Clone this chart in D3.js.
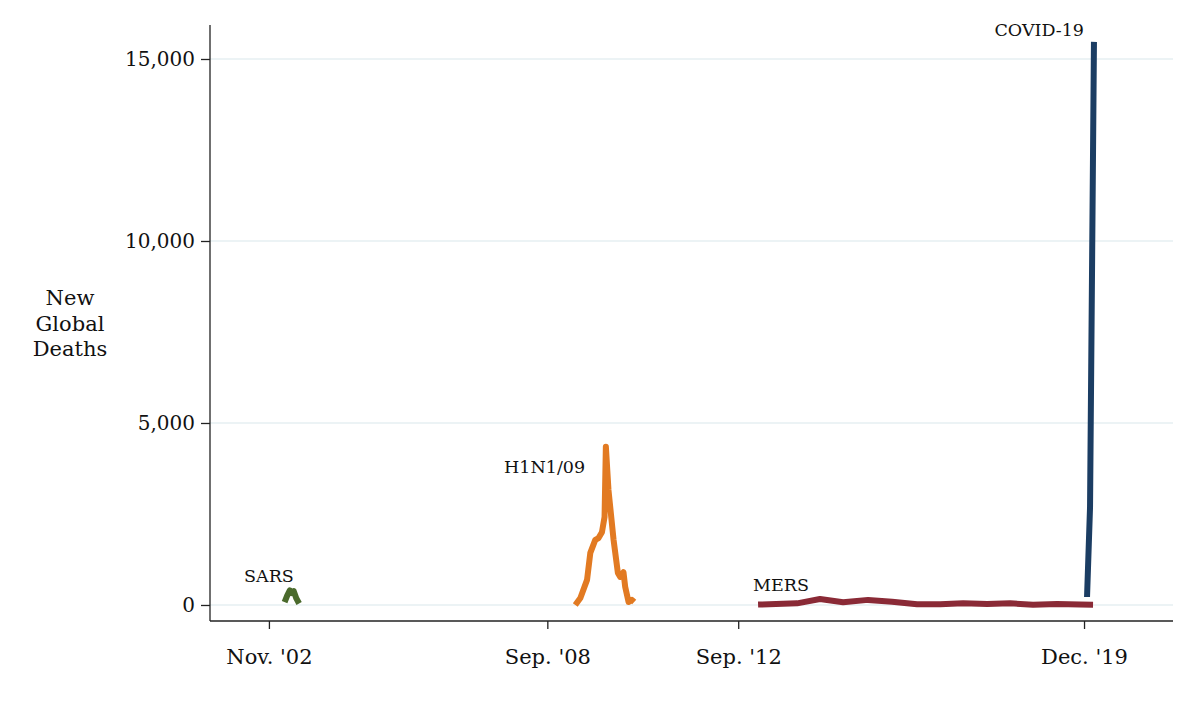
<!DOCTYPE html>
<html lang="en">
  <head>
    <meta charset="UTF-8" />
    <title>New Global Deaths by Epidemic</title>
    <script src="https://d3js.org/d3.v7.min.js"></script>
    <style>
      body {
        margin: 0;
        padding: 0;
        background-color: #fff;
      }
      svg text {
        font-family: "DejaVu Serif", "Liberation Serif", serif;
        fill: #111;
      }
      .axis path,
      .axis line {
        stroke: #222;
        stroke-width: 1.3px;
      }
      .grid line {
        stroke: #e6eff2;
        stroke-width: 1.5px;
      }
      .series {
        fill: none;
        stroke-width: 6px;
        stroke-linejoin: round;
      }
    </style>
  </head>
  <body>
    <div id="chart"></div>

    <script>
      const width = 1200;
      const height = 720;

      // Series (date, new deaths)
      const sarsDates = ["2003-03-01", "2003-03-20", "2003-04-10", "2003-04-25", "2003-05-10", "2003-05-30", "2003-06-20"];
      const sarsDeaths = [80, 250, 400, 330, 380, 180, 40];

      const h1n1Dates = [
        "2009-04-03", "2009-05-12", "2009-07-02", "2009-07-27", "2009-09-03", "2009-09-28", "2009-10-24",
        "2009-11-13", "2009-11-23", "2009-12-13", "2010-01-21", "2010-02-23", "2010-03-13", "2010-04-07",
        "2010-04-20", "2010-05-16", "2010-06-10", "2010-06-28",
      ];
      const h1n1Deaths = [0, 190, 690, 1430, 1790, 1840, 2000, 2420, 4350, 3160, 1790, 880, 770, 900, 500, 80, 140, 80];

      const mersDates = [
        "2013-01-31", "2013-11-26", "2014-05-20", "2014-11-13", "2015-05-23", "2015-11-23", "2016-06-01",
        "2016-11-25", "2017-05-20", "2017-11-20", "2018-05-14", "2018-11-06", "2019-05-08", "2019-10-31",
        "2020-02-08",
      ];
      const mersDeaths = [10, 45, 165, 75, 140, 90, 20, 20, 45, 30, 45, 5, 30, 10, 5];

      const covidDates = ["2019-12-24", "2020-01-16", "2020-02-15"];
      const covidDeaths = [220, 2690, 15470];

      const yTicks = [0, 5000, 10000, 15000];
      const xTickDates = ["2002-11-01", "2008-09-01", "2012-09-01", "2019-12-01"];
      const xTickLabels = ["Nov. '02", "Sep. '08", "Sep. '12", "Dec. '19"];

      const parse = d3.utcParse("%Y-%m-%d");
      const toPoints = (dates, values) => dates.map((d, i) => ({ date: parse(d), value: values[i] }));

      const series = [
        { name: "SARS", color: "#4a6a2c", points: toPoints(sarsDates, sarsDeaths) },
        { name: "H1N1/09", color: "#e27a22", points: toPoints(h1n1Dates, h1n1Deaths) },
        { name: "MERS", color: "#8a2a36", points: toPoints(mersDates, mersDeaths) },
        { name: "COVID-19", color: "#1b3d63", points: toPoints(covidDates, covidDeaths) },
      ];

      const margin = { left: 210, right: 27, top: 25, bottom: 99 };

      const svg = d3.select("#chart").append("svg").attr("width", width).attr("height", height).attr("viewBox", [0, 0, width, height]);

      const x = d3
        .scaleUtc()
        .domain([parse("2001-08-07"), parse("2021-10-12")])
        .range([margin.left, width - margin.right]);

      const y = d3
        .scaleLinear()
        .domain([-440, 15934])
        .range([height - margin.bottom, margin.top]);

      // gridlines
      svg
        .append("g")
        .attr("class", "grid")
        .selectAll("line")
        .data(yTicks)
        .enter()
        .append("line")
        .attr("x1", margin.left)
        .attr("x2", width - margin.right)
        .attr("y1", (d) => y(d))
        .attr("y2", (d) => y(d));

      // series lines
      const line = d3
        .line()
        .x((d) => x(d.date))
        .y((d) => y(d.value));

      svg
        .selectAll(".series")
        .data(series)
        .enter()
        .append("path")
        .attr("class", "series")
        .attr("stroke", (d) => d.color)
        .attr("d", (d) => line(d.points));

      // axes
      const yAxis = d3
        .axisLeft(y)
        .tickValues(yTicks)
        .tickSize(9)
        .tickPadding(6)
        .tickFormat(d3.format(","));

      svg
        .append("g")
        .attr("class", "axis")
        .attr("transform", `translate(${margin.left},0)`)
        .call(yAxis)
        .call((g) => g.select(".domain").attr("d", `M0,${margin.top}V${height - margin.bottom}`))
        .selectAll("text")
        .style("font-size", "20px");

      const xAxis = d3
        .axisBottom(x)
        .tickValues(xTickDates.map(parse))
        .tickSize(8)
        .tickPadding(20)
        .tickFormat((d, i) => xTickLabels[i]);

      svg
        .append("g")
        .attr("class", "axis")
        .attr("transform", `translate(0,${height - margin.bottom})`)
        .call(xAxis)
        .call((g) => g.select(".domain").attr("d", `M${margin.left},0H${width - margin.right}`))
        .selectAll("text")
        .style("font-size", "21px");

      // y axis title
      const yTitle = svg.append("text").attr("text-anchor", "middle").style("font-size", "21px");
      ["New", "Global", "Deaths"].forEach((t, i) => {
        yTitle.append("tspan").attr("x", 70).attr("y", 305 + i * 25.5).text(t);
      });

      // series labels
      const labels = [
        { text: "SARS", date: "2002-11-01", value: 640, anchor: "middle" },
        { text: "H1N1/09", date: "2009-06-17", value: 3615, anchor: "end" },
        { text: "MERS", date: "2012-12-24", value: 395, anchor: "start" },
        { text: "COVID-19", date: "2019-12-01", value: 15630, anchor: "end" },
      ];

      svg
        .selectAll(".label")
        .data(labels)
        .enter()
        .append("text")
        .attr("class", "label")
        .attr("x", (d) => x(parse(d.date)))
        .attr("y", (d) => y(d.value))
        .attr("text-anchor", (d) => d.anchor)
        .style("font-size", "17.5px")
        .text((d) => d.text);
    </script>
  </body>
</html>
